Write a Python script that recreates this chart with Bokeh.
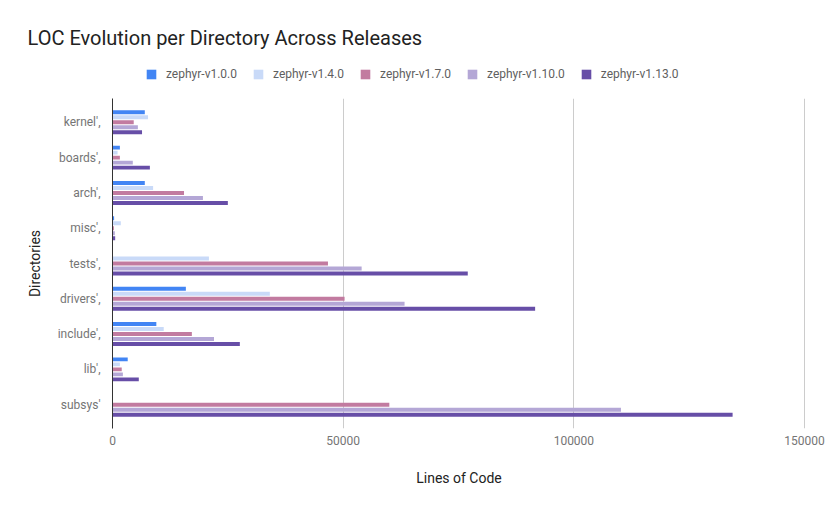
from bokeh.plotting import figure
from bokeh.layouts import column
from bokeh.models import (FactorRange, Range1d, Legend, LegendItem, Label, FixedTicker,
                          NumeralTickFormatter, ColumnDataSource)
from bokeh.transform import dodge
from bokeh.embed import file_html
from bokeh.resources import INLINE

# ---- data ----
dirs = ["kernel',", "boards',", "arch',", "misc',", "tests',", "drivers',", "include',", "lib',", "subsys'"]
releases = ["zephyr-v1.0.0", "zephyr-v1.4.0", "zephyr-v1.7.0", "zephyr-v1.10.0", "zephyr-v1.13.0"]
v1_0_0 = [7000, 1600, 7000, 350, 0, 15900, 9500, 3300, 0]
v1_4_0 = [7700, 1100, 8800, 1800, 20900, 34100, 11100, 1600, 0]
v1_7_0 = [4600, 1600, 15500, 300, 46700, 50300, 17200, 2000, 60000]
v1_10_0 = [5500, 4400, 19600, 500, 54000, 63300, 22000, 2250, 110200]
v1_13_0 = [6400, 8100, 25000, 580, 77000, 91600, 27600, 5700, 134400]
x_ticks = [0, 50000, 100000, 150000]

colors = ["#4285F4", "#C9DAF8", "#C27BA0", "#B4A7D6", "#674EA7"]

FONT = "Roboto"
TITLE = "LOC Evolution per Directory Across Releases"

# ---- header figure: title + legend ----
top = figure(width=830, height=98, output_backend="svg", toolbar_location=None,
             x_range=Range1d(0, 830), y_range=Range1d(0, 98),
             x_axis_type=None, y_axis_type=None,
             min_border_left=0, min_border_right=0, min_border_top=0, min_border_bottom=0)
if "frame_align" in top.properties():
    top.frame_align = False
top.grid.visible = False
top.outline_line_color = None
top.background_fill_color = "white"
top.border_fill_color = "white"

top.add_layout(Label(x=27, y=61, text=TITLE, text_font=FONT, text_font_size="20px",
                     text_color="#222222", text_baseline="alphabetic", text_align="left"))

# zero-size swatch carriers for the legend
swatch = ColumnDataSource(dict(y=[0], left=[0], right=[0]))
leg_rs = [top.hbar(y="y", left="left", right="right", height=0, source=swatch,
                   fill_color=c, line_color=None) for c in colors]
legend = Legend(items=[LegendItem(label=releases[i], renderers=[leg_rs[i]]) for i in range(5)],
                orientation="horizontal", location=(145, 17),
                label_text_font=FONT, label_text_font_size="12px", label_text_color="#5f5f5f",
                glyph_width=12, glyph_height=12, label_height=12, label_standoff=9,
                spacing=15, padding=0, margin=0, border_line_color=None,
                background_fill_alpha=0)
top.add_layout(legend, "center")

# ---- main chart ----
src = ColumnDataSource(dict(dir=dirs, s0=v1_0_0, s1=v1_4_0, s2=v1_7_0, s3=v1_10_0, s4=v1_13_0))

p = figure(width=830, height=415, output_backend="svg", toolbar_location=None,
           y_range=FactorRange(factors=list(reversed(dirs)), range_padding=0.039),
           x_range=Range1d(0, 150200),
           min_border_left=112, min_border_right=25, min_border_top=0, min_border_bottom=85)
if "frame_align" in p.properties():
    p.frame_align = False

step = 0.1416
offsets = [2 * step, step, 0, -step, -2 * step]
for i in range(5):
    p.hbar(y=dodge("dir", offsets[i], range=p.y_range), right="s%d" % i, left=0,
           height=0.112, source=src, fill_color=colors[i], line_color=None)

p.xaxis.ticker = FixedTicker(ticks=x_ticks)
p.xaxis.formatter = NumeralTickFormatter(format="0")
p.xaxis.axis_line_color = None
p.xaxis.major_tick_line_color = None
p.xaxis.minor_tick_line_color = None
p.xaxis.major_label_text_font = FONT
p.xaxis.major_label_text_font_size = "12px"
p.xaxis.major_label_text_color = "#757575"
p.xaxis.major_label_standoff = 1
p.xaxis.axis_label = "Lines of Code"
p.xaxis.axis_label_text_font = FONT
p.xaxis.axis_label_text_font_size = "14px"
p.xaxis.axis_label_text_font_style = "normal"
p.xaxis.axis_label_text_color = "#222222"
p.xaxis.axis_label_standoff = 22

p.yaxis.axis_line_color = "#333333"
p.yaxis.axis_line_width = 1
p.yaxis.major_tick_line_color = None
p.yaxis.minor_tick_line_color = None
p.yaxis.major_label_text_font = FONT
p.yaxis.major_label_text_font_size = "12px"
p.yaxis.major_label_text_color = "#757575"
p.yaxis.major_label_standoff = 6
p.yaxis.axis_label = "Directories"
p.yaxis.axis_label_text_font = FONT
p.yaxis.axis_label_text_font_size = "14px"
p.yaxis.axis_label_text_font_style = "normal"
p.yaxis.axis_label_text_color = "#222222"
p.yaxis.axis_label_standoff = 12

p.xgrid.ticker = FixedTicker(ticks=x_ticks)
p.xgrid.grid_line_color = "#cccccc"
p.ygrid.grid_line_color = None
p.outline_line_color = None
p.background_fill_color = "white"
p.border_fill_color = "white"

layout = column(top, p, spacing=0)
open("out.html", "w").write(file_html(layout, INLINE))
